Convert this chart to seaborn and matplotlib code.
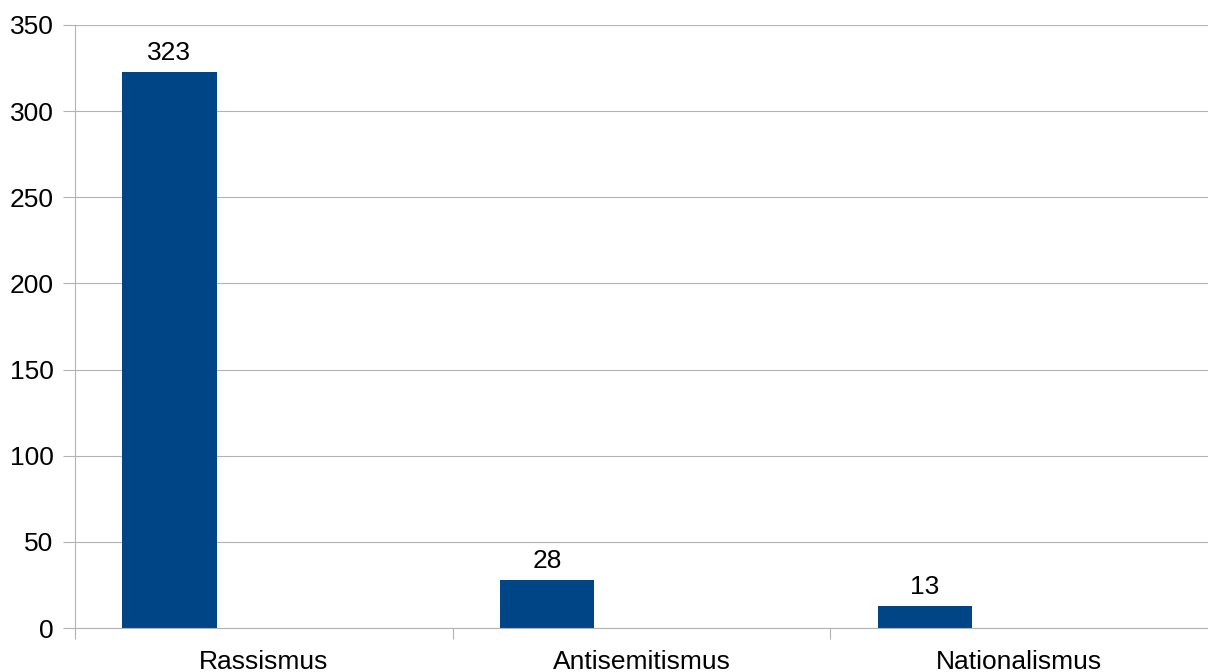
import matplotlib
matplotlib.use("Agg")
import matplotlib.pyplot as plt
import seaborn as sns
import pandas as pd
from matplotlib.ticker import FixedLocator, MultipleLocator

categories = ["Rassismus", "Antisemitismus", "Nationalismus"]
values = [323, 28, 13]
# chart keeps three series slots per category; only the first one holds data
series = ["Spalte 1", "Spalte 2", "Spalte 3"]

rows = []
for cat, val in zip(categories, values):
    for i, s in enumerate(series):
        rows.append({"Kategorie": cat, "Reihe": s, "Wert": val if i == 0 else 0})
df = pd.DataFrame(rows)

sns.set_theme(style="white")
plt.rcParams["font.family"] = ["Liberation Sans", "DejaVu Sans"]

GRID = "#b3b3b3"
BAR = "#004586"
FS = 19

fig = plt.figure(figsize=(12.08, 6.72), dpi=100)
ax = fig.add_axes([75 / 1208, 1 - 628 / 672, 1 - 75 / 1208, (628 - 25) / 672])

sns.barplot(data=df, x="Kategorie", y="Wert", hue="Reihe", hue_order=series,
            order=categories, palette=[BAR, BAR, BAR], saturation=1, width=0.75,
            linewidth=0, legend=False, ax=ax)

ax.set_xlim(-0.5, 2.5)
ax.set_ylim(0, 350)
ax.yaxis.set_major_locator(MultipleLocator(50))
ax.set_axisbelow(True)
ax.grid(axis="y", color=GRID, linewidth=0.8)
ax.grid(axis="x", visible=False)

for side in ("top", "right"):
    ax.spines[side].set_visible(False)
for side in ("left", "bottom"):
    ax.spines[side].set_color(GRID)
    ax.spines[side].set_linewidth(0.8)

ax.set_xlabel("")
ax.set_ylabel("")

# category labels centred, separator ticks at the category boundaries
ax.xaxis.set_minor_locator(FixedLocator([-0.5, 0.5, 1.5]))
ax.tick_params(axis="x", which="major", length=0, pad=16, labelsize=FS, labelcolor="black")
ax.tick_params(axis="x", which="minor", length=8, width=0.8, color=GRID, direction="out", bottom=True)
ax.tick_params(axis="y", which="major", length=8.5, width=0.8, color=GRID, direction="out",
               pad=7, labelsize=FS, labelcolor="black", left=True)

# value labels for the data series only
ax.bar_label(ax.containers[0], labels=[str(v) for v in values], padding=5,
             fontsize=FS, color="black")

fig.savefig("out.png", dpi=100)
